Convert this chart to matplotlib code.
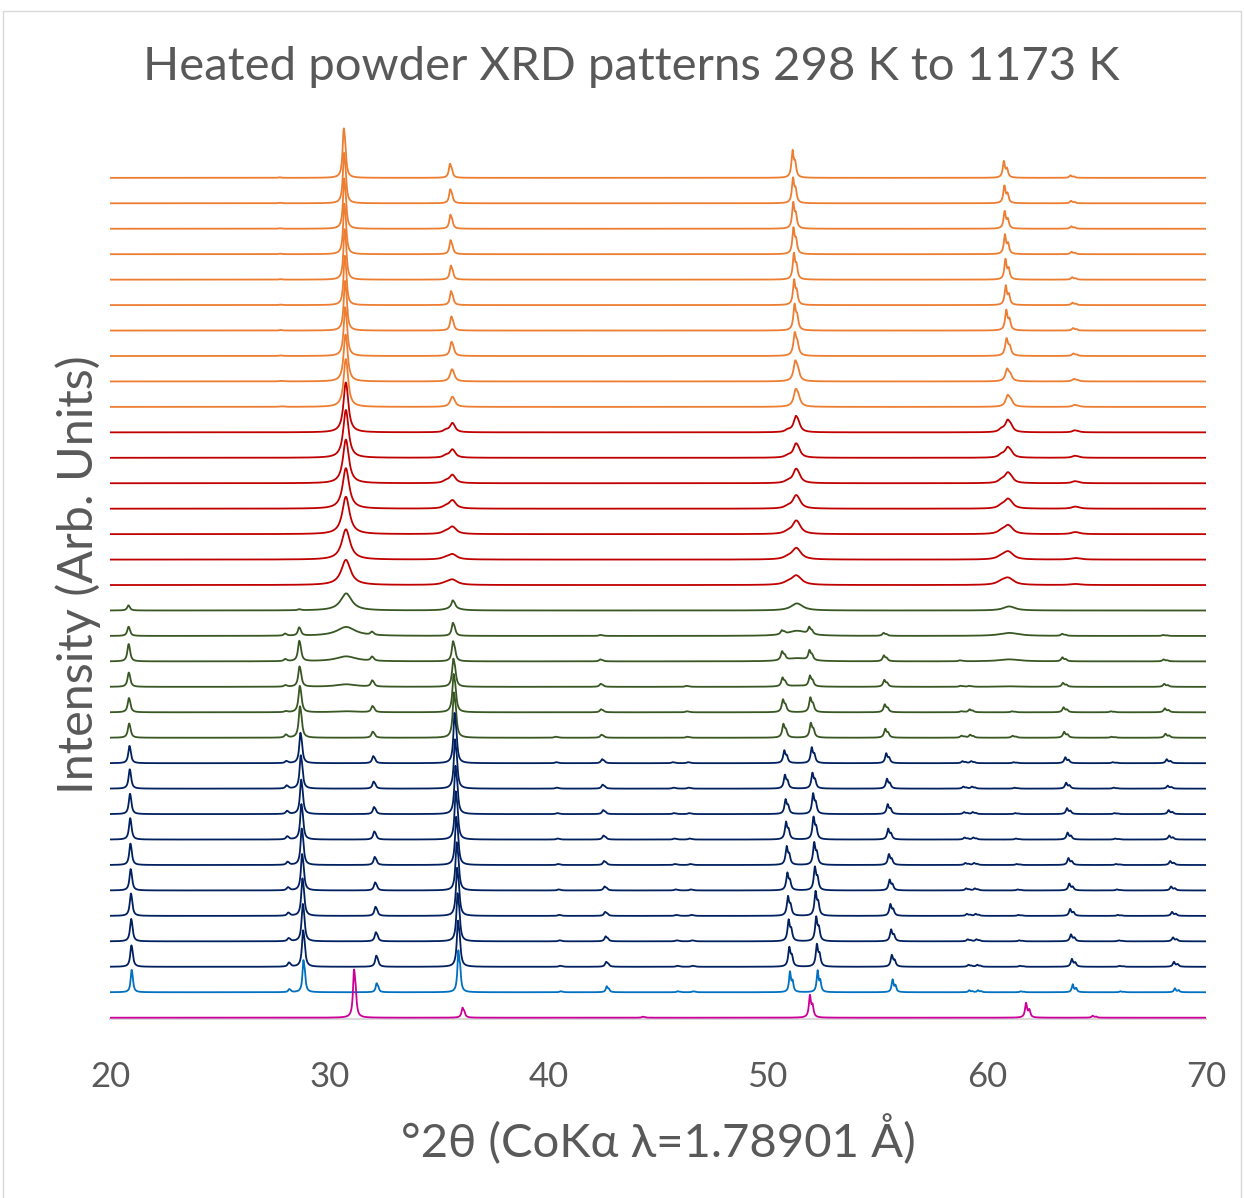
import numpy as np
import matplotlib.pyplot as plt
from matplotlib.patches import Rectangle

plt.rcParams['font.family'] = ['Lato', 'DejaVu Sans']

# 2-theta grid (deg)
two_theta = np.linspace(20, 70, 5001)

# Co K-alpha1 / K-alpha2 wavelengths (A)
lam1, lam2 = 1.78897, 1.79285

# ---- bottom pattern (magenta) ----
mag_pos = [31.13, 36.08, 44.30, 51.93, 61.79, 64.83]
mag_height = [48, 10, 1, 23, 15, 2]
mag_fwhm = 0.11

# ---- low temperature phase: light blue, 9 navy, 6 green (bottom to top) ----
a_pos = [20.98, 28.17, 28.82, 32.16, 35.89, 40.55, 42.66, 45.90, 46.60,
         51.02, 52.28, 55.70, 59.20, 59.60, 61.55, 63.92, 66.10, 68.58]
a_height = [
    [22, 3, 32, 9, 42, 1, 6, 1, 1, 21, 22, 13, 2, 2, 1, 8, 1, 4],
    [21, 4, 36, 11, 46, 1, 5, 1, 1, 20, 23, 12, 2, 2, 1, 8, 1, 5],
    [22, 3, 37, 9, 48, 1, 5, 1, 1, 22, 25, 12, 2, 2, 1, 7, 1, 4],
    [22, 3, 37, 9, 48, 1, 4, 1, 1, 20, 25, 12, 2, 2, 1, 7, 1, 4],
    [21, 3, 36, 8, 48, 1, 4, 1, 1, 18, 24, 11, 2, 2, 1, 7, 1, 4],
    [21, 3, 36, 8, 48, 1, 4, 1, 1, 19, 23, 11, 2, 2, 1, 7, 1, 4],
    [21, 3, 35, 8, 48, 1, 4, 1, 1, 18, 23, 11, 2, 2, 1, 7, 1, 4],
    [20, 3, 34, 7, 48, 1, 4, 1, 1, 15, 21, 10, 2, 2, 1, 6, 1, 4],
    [19, 3, 33, 7, 49, 1, 4, 1, 1, 14, 16, 10, 2, 2, 1, 6, 1, 3],
    [17, 2, 30, 7, 50, 1, 4, 1, 1, 13, 16, 10, 2, 2, 1, 6, 1, 4],
    [14, 3, 31, 6, 45, 1, 3, 0, 1, 14, 15, 9, 2, 3, 2, 6, 1, 4],
    [14, 1, 26, 6, 38, 0, 3, 0, 1, 13, 15, 8, 1, 3, 1, 5, 1, 4],
    [14, 1.5, 20, 6, 28, 0, 3, 0, 1, 9, 11, 7, 1, 1, 0, 4, 0, 3],
    [17, 2, 20, 4, 20, 0, 2, 0, 0, 9, 10, 6, 1, 0, 0, 4, 0, 2],
    [9, 2, 8, 3, 13, 0, 1, 0, 0, 4, 7, 3, 0, 0, 0, 2, 0, 1],
    [5, 0, 1, 0, 7, 0, 0, 0, 0, 0, 0, 0, 0, 0, 0, 0, 0, 0],
]
a_shift = [0, -0.03, -0.06, -0.09, -0.12, -0.15, -0.18, -0.20, -0.23, -0.26,
           -0.30, -0.32, -0.34, -0.36, -0.37, -0.38]
a_fwhm = [0.10] + [0.12] * 9 + [0.13] * 6

# ---- high temperature phase: 6 green, 7 red, 10 orange (bottom to top) ----
b_pos = [27.80, 30.74, 35.30, 35.60, 50.90, 51.28, 60.65, 60.95, 64.00]
b_height = [
    [0, 0, 0, 0, 0, 0, 0, 0, 0],
    [0, 1, 0, 0, 0, 0, 0, 0, 0],
    [0, 2.5, 0, 0, 0, 1, 0, 0.5, 0],
    [0, 5, 0, 0, 0, 3, 0, 2, 0],
    [0, 9, 0, 0, 0, 5, 0, 3, 0],
    [0, 17, 0, 3, 0, 7, 0, 4, 0],
    [0, 25, 1.5, 5, 2, 9, 3, 6, 1],
    [0, 30, 1.5, 5, 2, 11, 3, 7, 1.5],
    [0, 37, 2, 7, 2, 13, 3, 8, 2],
    [0, 40, 2, 8, 2, 13, 3, 9, 2],
    [0, 43, 2, 8, 2, 14, 3, 10, 2],
    [0, 47, 2, 8, 2, 14, 3, 10, 2],
    [0, 49, 2, 9, 2, 16, 3, 12, 2],
    [0.5, 47, 0, 10, 0, 18, 0, 12, 2],
    [0.5, 46, 0, 12, 0, 21, 0, 13, 2.5],
    [0.5, 48, 0, 14, 0, 24, 0, 18, 2.5],
    [0.5, 49, 0, 14, 0, 27, 0, 21, 2.5],
    [0.5, 49, 0, 14, 0, 26, 0, 20, 2.5],
    [0.5, 50, 0, 14, 0, 27, 0, 21, 2.5],
    [0.5, 50, 0, 14, 0, 27, 0, 20, 2.5],
    [0.5, 50, 0, 14, 0, 27, 0, 18, 2.5],
    [0.5, 50, 0, 14, 0, 26, 0, 18, 2.5],
    [0.5, 49, 0, 14, 0, 28, 0, 17, 2.5],
]
b_shift = [0.02] * 6 + [0] * 7 + [0, -0.02, -0.04, -0.05, -0.07, -0.08, -0.10,
                                  -0.11, -0.12, -0.14]
b_fwhm = [1.2, 1.2, 1.1, 1.1, 1.0, 0.6,
          0.50, 0.44, 0.38, 0.34, 0.30, 0.27, 0.24,
          0.22, 0.19, 0.15, 0.13, 0.12, 0.12, 0.12, 0.12, 0.12, 0.12]

trace_colors = (['#CC0099', '#0070C0'] + ['#002060'] * 9 + ['#385723'] * 6
                + ['#C00000'] * 7 + ['#ED7D31'] * 10)
spacing = 25.45


def pattern(pos, height, fwhm, shift):
    y = np.zeros_like(two_theta)
    for p, h in zip(pos, height):
        if h == 0:
            continue
        p = p + shift * np.tan(np.radians(p / 2)) / np.tan(np.radians(25.5))
        p2 = 2 * np.degrees(np.arcsin(lam2 / lam1 * np.sin(np.radians(p / 2))))
        # scale so the K-alpha1 + K-alpha2 pair peaks at the read height
        h = h / (1 + 0.5 / (1 + ((p2 - p) / (fwhm / 2)) ** 2))
        for c, r in ((p, 1.0), (p2, 0.5)):
            y += r * h / (1 + ((two_theta - c) / (fwhm / 2)) ** 2)
    return y


traces = [pattern(mag_pos, mag_height, mag_fwhm, 0)]
n_a = len(a_height)
for i in range(n_a):
    traces.append(pattern(a_pos, a_height[i], a_fwhm[i], a_shift[i]))
for j in range(len(b_height)):
    y = pattern(b_pos, b_height[j], b_fwhm[j], b_shift[j])
    k = 1 + n_a - 6 + j
    if k < len(traces):
        traces[k] = traces[k] + y
    else:
        traces.append(y)

W, H = 1244, 1198
fig = plt.figure(figsize=(W / 100, H / 100), dpi=100)
ax = fig.add_axes([110 / W, 1 - 1019 / H, 1096 / W, 899 / H])

# lower patterns drawn on top of upper ones
for i in range(len(traces) - 1, -1, -1):
    ax.plot(two_theta, traces[i] + i * spacing, color=trace_colors[i],
            lw=1.3, zorder=10 + len(traces) - i)

ax.set_xlim(20, 70)
ax.set_ylim(-1.3, 897.7)
ax.set_yticks([])
ax.set_xticks([20, 30, 40, 50, 60, 70])
ax.tick_params(axis='x', length=0, pad=30, labelsize=25, labelcolor='#595959')
for s in ['top', 'right', 'left']:
    ax.spines[s].set_visible(False)
ax.spines['bottom'].set_color('#D9D9D9')
ax.spines['bottom'].set_linewidth(1.5)

ax.set_xlabel('°2θ (CoKα λ=1.78901 Å)', fontsize=34, color='#595959')
ax.xaxis.set_label_coords(0.5, -(1140 - 1019) / 899)
ax.xaxis.label.set_va('center')
ax.set_ylabel('Intensity (Arb. Units)', fontsize=35, color='#595959')
ax.yaxis.set_label_coords(-(110 - 78) / 1096, (1019 - 575) / 899)
ax.yaxis.label.set_va('center')

fig.text(631 / W, 1 - 67 / H, 'Heated powder XRD patterns 298 K to 1173 K',
         fontsize=34, color='#595959', ha='center', va='center')

fig.patches.append(Rectangle((3 / W, -0.01), 1238 / W, 1 - 11 / H + 0.01,
                             transform=fig.transFigure, fill=False,
                             edgecolor='#D9D9D9', lw=1))

fig.savefig('out.png', dpi=100)
